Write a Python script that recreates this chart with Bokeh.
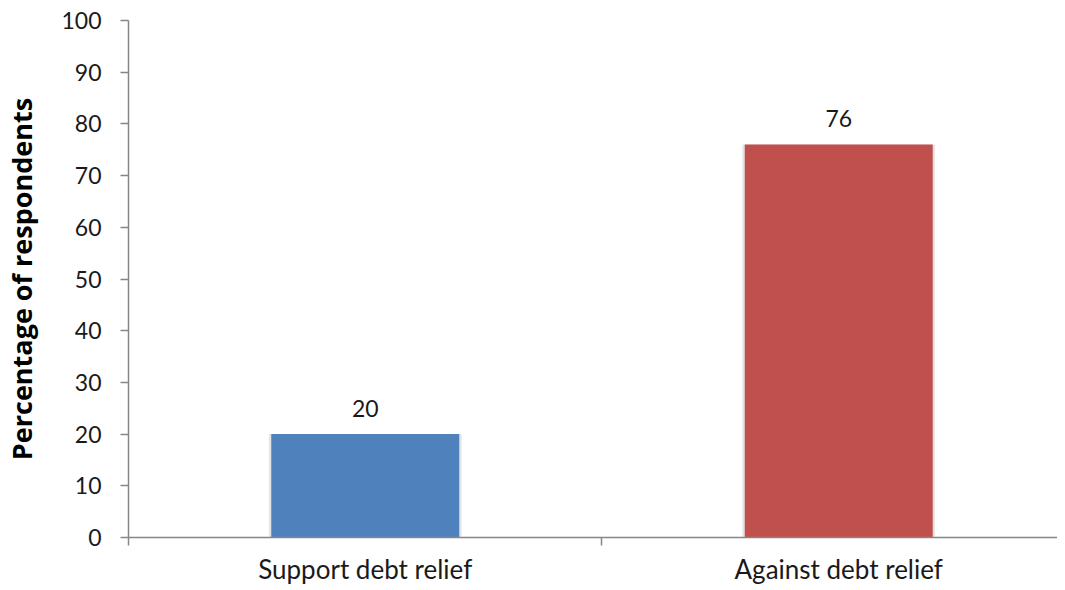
from bokeh.plotting import figure
from bokeh.models import ColumnDataSource, FixedTicker, Range1d
from bokeh.core.properties import value
from bokeh.embed import file_html
from bokeh.resources import INLINE

categories = ["Support debt relief", "Against debt relief"]
values = [20, 76]
colors = ["#4F81BD", "#C0504D"]
y_ticks = [0, 10, 20, 30, 40, 50, 60, 70, 80, 90, 100]

xpos = [i + 0.5 for i in range(len(categories))]
src = ColumnDataSource(dict(x=xpos, top=values, color=colors,
                            label=[str(v) for v in values]))

FONT = "Lato"
p = figure(width=1057, height=590, output_backend="svg", toolbar_location=None,
           x_range=Range1d(0, 1.962), y_range=Range1d(0, 100),
           min_border_left=127, min_border_right=0, min_border_top=20,
           min_border_bottom=53)
p.outline_line_color = None
p.xgrid.grid_line_color = None
p.ygrid.grid_line_color = None
p.background_fill_color = "white"
p.border_fill_color = "white"

# subtle shadow
p.vbar(x="x", top="top", width=0.407, bottom=0, source=src,
       fill_color="#e4e4e4", line_color=None)
p.vbar(x="x", top="top", width=0.397, bottom=0, source=src,
       fill_color="color", line_color=None)
p.text(x="x", y="top", text="label", source=src, text_align="center",
       text_baseline="alphabetic", y_offset=-26, text_font=value(FONT),
       text_font_size="23px", text_color="#1a1a1a")

AX = "#868686"
xa = p.xaxis[0]
xa.ticker = FixedTicker(ticks=xpos, minor_ticks=[0, 1, 2])
xa.major_label_overrides = {x: c for x, c in zip(xpos, categories)}
xa.major_tick_line_color = None
xa.minor_tick_line_color = AX
xa.minor_tick_out = 8
xa.minor_tick_in = 0
xa.axis_line_color = AX
xa.axis_line_width = 1.5
xa.minor_tick_line_width = 1.5
xa.major_label_text_font = FONT
xa.major_label_text_font_size = "26px"
xa.major_label_text_color = "#1a1a1a"
xa.major_label_standoff = 7

ya = p.yaxis[0]
ya.ticker = FixedTicker(ticks=y_ticks, minor_ticks=[])
ya.major_tick_line_color = AX
ya.major_tick_out = 8
ya.major_tick_in = 0
ya.major_tick_line_width = 1.5
ya.axis_line_color = AX
ya.axis_line_width = 1.5
ya.major_label_text_font = FONT
ya.major_label_text_font_size = "23px"
ya.major_label_text_color = "#1a1a1a"
ya.major_label_standoff = 19
ya.axis_label = "Percentage of respondents"
ya.axis_label_text_font = "Open Sans"
ya.axis_label_text_font_style = "bold"
ya.axis_label_text_font_size = "27px"
ya.axis_label_text_color = "#000000"
ya.axis_label_standoff = 18

open("out.html", "w").write(file_html(p, INLINE))
